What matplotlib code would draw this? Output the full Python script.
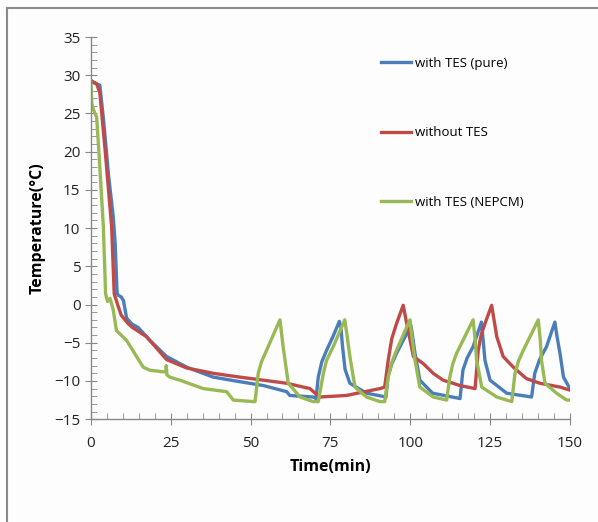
import matplotlib.pyplot as plt
from matplotlib.lines import Line2D
from matplotlib.ticker import MultipleLocator

# Data
time_pure = [0, 1, 2.8, 4, 5.5, 7, 7.6, 8.2, 8.6, 9.5, 10.2, 11.2, 13, 14.8, 18.5, 23.7,
             30, 38.3, 46.7, 54, 61.3, 62.3, 69.6, 70.5, 71.2, 72.3, 73.8, 75.8, 77.8,
             78.3, 78.8, 79.6, 81.1, 86.3, 92.4, 93, 94.2, 95.7, 98.9, 99.9, 100.4,
             101.5, 103, 107, 115.6, 116.5, 117.8, 119.7, 122.3, 122.8, 123.4, 125,
             130.2, 138, 139, 140.5, 142.7, 145.3, 145.9, 146.9, 148, 150]
temp_pure = [29.3, 29.0, 28.7, 24, 17, 11.5, 8, 1.5, 1.2, 1.0, 0.5, -1.8, -2.6, -3.0,
             -4.7, -6.8, -8.2, -9.5, -10.1, -10.6, -11.4, -11.9, -12.1, -12.3, -9.5,
             -7.5, -6.0, -4.2, -2.2, -3.0, -5.5, -8.5, -10.3, -11.6, -12.1, -9.5,
             -7.8, -6.4, -3.8, -2.2, -3.2, -6.4, -9.9, -11.6, -12.3, -8.6, -7.0, -5.5,
             -2.3, -4.5, -7.3, -9.9, -11.6, -12.1, -9.0, -7.2, -5.5, -2.3, -4.0,
             -6.4, -9.5, -11.0]

time_none = [0, 1.8, 2.8, 4.5, 6.5, 7.3, 8.6, 9.5, 11.7, 13, 17.4, 23.7, 30, 38.3,
             46.7, 54, 61.3, 68.6, 70.2, 71.7, 80, 90.5, 92, 93.1, 94.2, 95.7, 97.8,
             98.9, 101, 104, 107.2, 110.3, 115.6, 120.3, 121.3, 122.2, 123.4, 125.5,
             127.1, 129.1, 132.3, 136.4, 140.6, 146.9, 150]
temp_none = [29.3, 28.9, 27.7, 20, 10.2, 1.4, -0.3, -1.4, -2.5, -3.0, -4.2, -7.2, -8.3,
             -9.0, -9.5, -9.9, -10.3, -11.0, -11.6, -12.1, -11.9, -11.0, -10.8, -7.3,
             -4.5, -2.5, -0.1, -2.5, -6.8, -7.7, -9.0, -9.9, -10.6, -11.0, -6.0, -4.0,
             -2.5, -0.1, -4.2, -6.8, -8.2, -9.7, -10.3, -10.8, -11.2]

time_nepcm = [0, 0.3, 0.7, 1.8, 2.5, 3.9, 4.6, 5.2, 6, 7, 8, 11.2, 14.3, 16.4, 18.5,
              22.6, 23.5, 23.6, 23.8, 24.7, 27.9, 35.2, 42.5, 44.6, 50.8, 51.4, 52.4,
              53.4, 55, 59.2, 60.2, 61.8, 65.5, 69.6, 71.2, 72.8, 73.8, 75.9, 79.5,
              80.2, 81.1, 82.7, 86.3, 90.5, 92, 93.1, 94.2, 95.7, 99.9, 100.6, 101.5,
              103, 107.2, 111.4, 112.4, 113.3, 114.5, 119.7, 120.3, 120.8, 122.4,
              127.1, 131.8, 132.8, 133.9, 135.4, 140.1, 140.7, 141.1, 142.2, 145.8,
              149, 150]
temp_nepcm = [29, 26.3, 25.6, 24.5, 20, 10.2, 1.4, 0.4, 0.8, -0.7, -3.4, -4.7, -6.8,
              -8.2, -8.6, -8.8, -8.8, -8.0, -9.2, -9.5, -9.9, -11.0, -11.4, -12.5,
              -12.7, -12.7, -9.0, -7.5, -6.0, -2.0, -5.5, -10.3, -12.1, -12.7, -12.7,
              -9.0, -7.3, -5.5, -2.0, -4.0, -6.8, -10.8, -12.1, -12.7, -12.7, -9.5,
              -7.6, -6.0, -2.0, -4.5, -7.3, -10.8, -12.1, -12.5, -9.5, -7.8, -6.4,
              -2.0, -4.5, -7.3, -10.8, -12.1, -12.7, -9.0, -7.4, -6.0, -2.0, -4.5,
              -7.3, -10.3, -11.6, -12.5, -12.5]

labels = ['with TES (pure)', 'without TES', 'with TES (NEPCM)']
colors = ['#4a7ebb', '#be4b48', '#98b954']

plt.rcParams['font.family'] = ['Open Sans', 'DejaVu Sans']

fig = plt.figure(figsize=(5.98, 5.22), dpi=100)
fig.patch.set_facecolor('#fdfdfd')
ax = fig.add_axes([0.152, 0.197, 0.801, 0.732])
ax.set_facecolor('#fdfdfd')

ax.plot(time_pure, temp_pure, color=colors[0], lw=2.4, label=labels[0])
ax.plot(time_none, temp_none, color=colors[1], lw=2.4, label=labels[1])
ax.plot(time_nepcm, temp_nepcm, color=colors[2], lw=2.4, label=labels[2])

ax.set_xlim(0, 150)
ax.set_ylim(-15, 35)
ax.xaxis.set_major_locator(MultipleLocator(25))
ax.xaxis.set_minor_locator(MultipleLocator(5))
ax.yaxis.set_major_locator(MultipleLocator(5))
ax.yaxis.set_minor_locator(MultipleLocator(1))

for s in ['top', 'right']:
    ax.spines[s].set_visible(False)
for s in ['left', 'bottom']:
    ax.spines[s].set_color('#888888')
    ax.spines[s].set_linewidth(1)

ax.tick_params(which='major', direction='inout', length=8, color='#888888',
               labelsize=11, labelcolor='#222222')
ax.tick_params(which='minor', direction='in', length=4, color='#888888')
ax.tick_params(axis='x', pad=8)

ax.set_xlabel('Time(min)', fontsize=11.5, fontweight='bold', labelpad=6)
ax.set_ylabel('Temperature(°C)', fontsize=11.5, fontweight='bold', labelpad=6)

ax.legend(loc='upper left', bbox_to_anchor=(0.58, 0.98), frameon=False,
          fontsize=9.5, labelspacing=4.3, handlelength=2.3, handletextpad=0.3)

# Gray border on top and left of the picture
fig.add_artist(Line2D([7 / 598, 1], [1 - 8 / 522, 1 - 8 / 522], color='#8a8a8a', lw=1.5,
                      transform=fig.transFigure))
fig.add_artist(Line2D([7 / 598, 7 / 598], [0, 1 - 8 / 522], color='#8a8a8a', lw=1.5,
                      transform=fig.transFigure))

plt.savefig('out.png', dpi=100)
